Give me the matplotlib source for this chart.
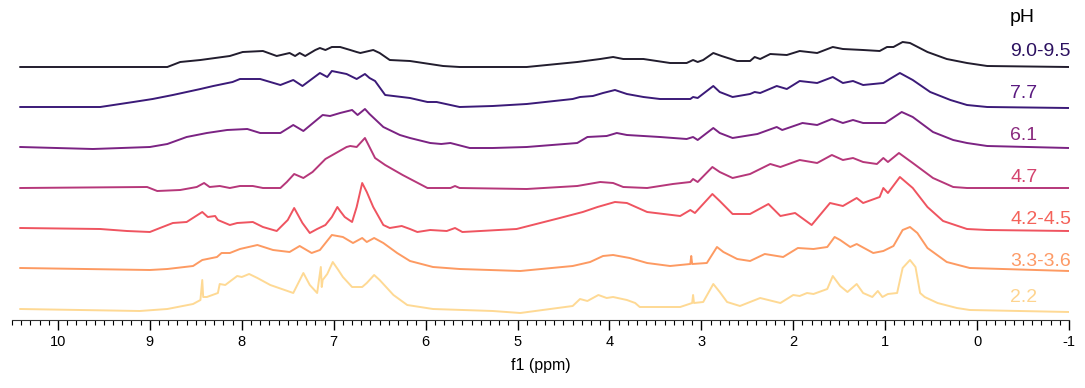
import numpy as np
import matplotlib
matplotlib.use("Agg")
import matplotlib.pyplot as plt
from matplotlib.ticker import MultipleLocator

plt.rcParams["font.family"] = ["Liberation Sans", "DejaVu Sans"]
plt.rcParams["axes.unicode_minus"] = False

# (ppm, intensity), intensity relative to its own baseline
ph_9 = [(10.41, 0), (8.81, 0), (8.67, 5), (8.45, 7), (8.13, 11), (7.99, 15), (7.77, 16), (7.62, 11),
        (7.48, 14), (7.42, 11), (7.37, 14), (7.31, 11), (7.20, 17), (7.15, 19), (7.09, 17), (7.02, 20),
        (6.93, 20), (6.82, 17), (6.75, 15), (6.71, 14), (6.57, 17), (6.50, 14), (6.39, 7), (6.17, 6),
        (5.81, 1), (5.63, 0), (4.90, 0), (4.35, 5), (4.10, 8), (3.96, 10), (3.85, 8), (3.63, 8),
        (3.34, 4), (3.16, 4), (3.09, 7), (3.04, 5), (2.98, 7), (2.87, 14), (2.78, 11), (2.61, 6),
        (2.47, 6), (2.42, 10), (2.36, 8), (2.25, 13), (2.07, 12), (1.93, 16), (1.74, 14), (1.57, 20),
        (1.46, 18), (1.24, 17), (1.06, 16), (0.98, 20), (0.91, 20), (0.81, 25), (0.73, 24), (0.54, 15),
        (0.33, 8), (0.11, 4), (-0.11, 1), (-1.0, 0)]
ph_77 = [(10.41, 0), (9.54, 0), (9.18, 5), (8.97, 8), (8.75, 12), (8.60, 15), (8.45, 18), (8.31, 21),
         (8.10, 25), (8.02, 28), (7.80, 28), (7.58, 22), (7.44, 27), (7.34, 21), (7.15, 34), (7.07, 30),
         (7.02, 36), (6.86, 33), (6.75, 28), (6.66, 33), (6.61, 29), (6.55, 26), (6.44, 12), (6.35, 11),
         (6.17, 9), (5.98, 5), (5.88, 5), (5.63, 0), (5.27, 1), (4.90, 3), (4.40, 8), (4.32, 10),
         (4.18, 11), (4.07, 14), (3.94, 17), (3.81, 13), (3.63, 10), (3.45, 8), (3.12, 8), (3.09, 10),
         (3.04, 9), (2.87, 21), (2.80, 15), (2.66, 10), (2.47, 13), (2.42, 15), (2.36, 14), (2.18, 21),
         (2.07, 18), (1.93, 26), (1.74, 24), (1.57, 30), (1.46, 24), (1.35, 26), (1.24, 22), (1.02, 24),
         (0.95, 28), (0.84, 34), (0.70, 27), (0.51, 15), (0.29, 7), (0.11, 2), (-0.11, 0), (-1.0, -1)]
ph_61 = [(10.41, 0), (9.62, -2), (9.00, 0), (8.81, 3), (8.60, 10), (8.38, 14), (8.16, 17), (7.94, 18),
         (7.80, 14), (7.58, 14), (7.44, 22), (7.33, 16), (7.12, 32), (7.04, 31), (6.93, 34), (6.80, 37),
         (6.74, 32), (6.66, 38), (6.61, 33), (6.46, 20), (6.28, 12), (6.17, 9), (5.95, 4), (5.83, 3),
         (5.73, 4), (5.52, -1), (5.27, -1), (4.90, 0), (4.35, 4), (4.24, 10), (4.03, 11), (3.92, 14),
         (3.81, 12), (3.45, 10), (3.16, 8), (3.09, 10), (3.04, 7), (2.87, 19), (2.80, 14), (2.66, 9),
         (2.39, 13), (2.18, 20), (2.12, 17), (1.90, 24), (1.74, 22), (1.58, 28), (1.46, 24), (1.35, 27),
         (1.24, 24), (1.00, 24), (0.82, 35), (0.70, 30), (0.48, 15), (0.26, 7), (0.11, 4), (-0.11, 1),
         (-1.0, -1)]
ph_47 = [(10.41, 0), (9.03, 1), (8.92, -3), (8.67, -2), (8.49, 1), (8.41, 5), (8.35, 1), (8.24, 2),
         (8.13, 0), (8.02, 2), (7.88, 2), (7.77, 0), (7.58, 0), (7.51, 6), (7.43, 14), (7.33, 10),
         (7.23, 16), (7.09, 29), (6.86, 41), (6.82, 42), (6.75, 41), (6.66, 50), (6.55, 30), (6.44, 23),
         (6.25, 13), (5.98, 0), (5.73, 0), (5.68, 2), (5.63, 0), (4.90, -1), (4.35, 2), (4.10, 6),
         (3.96, 5), (3.85, 1), (3.59, 0), (3.31, 4), (3.12, 6), (3.09, 9), (3.04, 6), (2.88, 21),
         (2.80, 16), (2.66, 10), (2.47, 14), (2.25, 24), (2.14, 21), (1.93, 28), (1.74, 25), (1.58, 33),
         (1.46, 28), (1.35, 30), (1.24, 26), (1.09, 24), (1.02, 30), (0.97, 26), (0.85, 35), (0.70, 25),
         (0.48, 10), (0.26, 1), (0.11, 0), (-1.0, 0)]
ph_42 = [(10.41, 0), (9.54, -1), (9.25, -3), (9.00, -4), (8.89, 0), (8.75, 5), (8.60, 6), (8.43, 16),
         (8.37, 11), (8.29, 12), (8.26, 8), (8.13, 3), (8.05, 5), (7.88, 6), (7.77, 1), (7.62, -3),
         (7.50, 8), (7.43, 20), (7.34, 5), (7.26, -5), (7.18, -1), (7.09, 3), (7.02, 11), (6.96, 21),
         (6.93, 17), (6.88, 11), (6.80, 6), (6.75, 21), (6.69, 45), (6.64, 36), (6.57, 21), (6.46, 3),
         (6.39, 0), (6.26, 2), (6.17, -1), (6.09, -4), (5.95, -2), (5.77, -3), (5.68, 0), (5.60, -4),
         (5.01, -1), (4.54, 10), (4.29, 16), (4.13, 21), (3.94, 26), (3.81, 25), (3.59, 16), (3.23, 12),
         (3.12, 18), (3.07, 15), (2.88, 34), (2.80, 27), (2.66, 14), (2.47, 14), (2.27, 24), (2.14, 12),
         (1.98, 15), (1.80, 3), (1.60, 25), (1.46, 22), (1.31, 30), (1.24, 25), (1.06, 31), (1.02, 40),
         (0.97, 35), (0.84, 51), (0.70, 40), (0.54, 21), (0.37, 7), (0.11, -1), (-0.11, -2), (-1.0, -3)]
ph_33 = [(10.41, 0), (9.00, -2), (8.81, -1), (8.53, 2), (8.43, 8), (8.27, 11), (8.22, 15), (8.13, 15),
         (8.02, 19), (7.83, 23), (7.66, 18), (7.48, 16), (7.37, 22), (7.24, 15), (7.15, 18), (7.02, 33),
         (6.90, 31), (6.79, 25), (6.69, 30), (6.64, 26), (6.56, 30), (6.46, 25), (6.31, 15), (6.17, 7),
         (5.92, 1), (5.63, -1), (4.97, -3), (4.40, 2), (4.21, 6), (4.07, 12), (3.96, 13), (3.78, 10),
         (3.59, 5), (3.34, 2), (3.12, 4), (3.11, 12), (3.10, 4), (2.94, 5), (2.83, 21), (2.76, 16),
         (2.61, 9), (2.47, 7), (2.31, 14), (2.11, 11), (1.95, 20), (1.78, 19), (1.63, 21), (1.55, 31),
         (1.49, 28), (1.38, 21), (1.31, 24), (1.13, 15), (1.02, 17), (0.91, 22), (0.81, 38), (0.73, 41),
         (0.65, 35), (0.54, 20), (0.33, 6), (0.08, 0), (-1.0, -3)]
ph_22 = [(10.41, 0), (9.11, -2), (8.81, 0), (8.53, 5), (8.45, 9), (8.43, 29), (8.42, 12), (8.38, 12),
         (8.26, 16), (8.24, 25), (8.18, 24), (8.05, 33), (8.00, 32), (7.92, 35), (7.83, 31), (7.69, 24),
         (7.44, 16), (7.33, 36), (7.26, 24), (7.18, 16), (7.14, 42), (7.13, 22), (7.12, 29), (7.07, 35),
         (7.01, 47), (6.95, 39), (6.90, 32), (6.80, 22), (6.69, 22), (6.64, 26), (6.56, 34), (6.50, 29),
         (6.35, 14), (6.20, 4), (5.92, 0), (5.27, -2), (4.97, -4), (4.40, 3), (4.32, 10), (4.24, 8),
         (4.12, 14), (4.03, 11), (3.96, 12), (3.81, 9), (3.72, 6), (3.67, 2), (3.23, 2), (3.10, 6),
         (3.09, 14), (3.08, 6), (2.98, 7), (2.87, 25), (2.80, 17), (2.72, 7), (2.58, 3), (2.36, 11),
         (2.14, 6), (2.00, 14), (1.93, 13), (1.85, 16), (1.78, 15), (1.63, 20), (1.57, 33), (1.49, 23),
         (1.41, 17), (1.31, 25), (1.24, 16), (1.14, 12), (1.08, 18), (1.03, 12), (0.97, 15), (0.87, 16),
         (0.81, 41), (0.73, 49), (0.67, 42), (0.62, 16), (0.57, 12), (0.43, 6), (0.22, 1), (0.08, -1),
         (-1.0, -3)]

spectra = [ph_9, ph_77, ph_61, ph_47, ph_42, ph_33, ph_22]
ph_labels = ["9.0-9.5", "7.7", "6.1", "4.7", "4.2-4.5", "3.3-3.6", "2.2"]
offsets = [253, 213, 173, 132, 92, 52, 11]
line_colors = ["#221d2e", "#3b1a78", "#7b2383", "#b6377a", "#ef5460", "#fd9a62", "#fed994"]
text_colors = ["#2c1160", "#5a1a80", "#8a2a7f", "#d4436e", "#f4625a", "#fd9a66", "#fed48f"]
label_y = [269, 227, 184, 142, 100, 59, 22]

fig = plt.figure(figsize=(10.85, 3.88), dpi=100)
ax = fig.add_axes([12 / 1085, 68 / 388, 1057 / 1085, 320 / 388])

for spec, off, col in zip(spectra, offsets, line_colors):
    s = np.array(spec)
    ax.plot(s[:, 0], s[:, 1] + off, color=col, lw=1.4, solid_joinstyle="round")

for lab, y, col in zip(ph_labels, label_y, text_colors):
    ax.text(-0.36, y, lab, color=col, fontsize=14, va="center", ha="left")
ax.text(-0.36, 302, "pH", color="black", fontsize=14, va="center", ha="left")

ax.set_xlim(10.5, -1)
ax.set_ylim(0, 320)
ax.xaxis.set_major_locator(MultipleLocator(1))
ax.xaxis.set_minor_locator(MultipleLocator(0.1))
ax.tick_params(axis="x", which="major", length=7, width=1, labelsize=10.5, pad=4)
ax.tick_params(axis="x", which="minor", length=3.5, width=0.8)
ax.set_yticks([])
for sp in ["left", "top", "right"]:
    ax.spines[sp].set_visible(False)
ax.spines["bottom"].set_color("#333333")
ax.set_xlabel("f1 (ppm)", fontsize=11.5, labelpad=6)

fig.savefig("out.png", dpi=100)
